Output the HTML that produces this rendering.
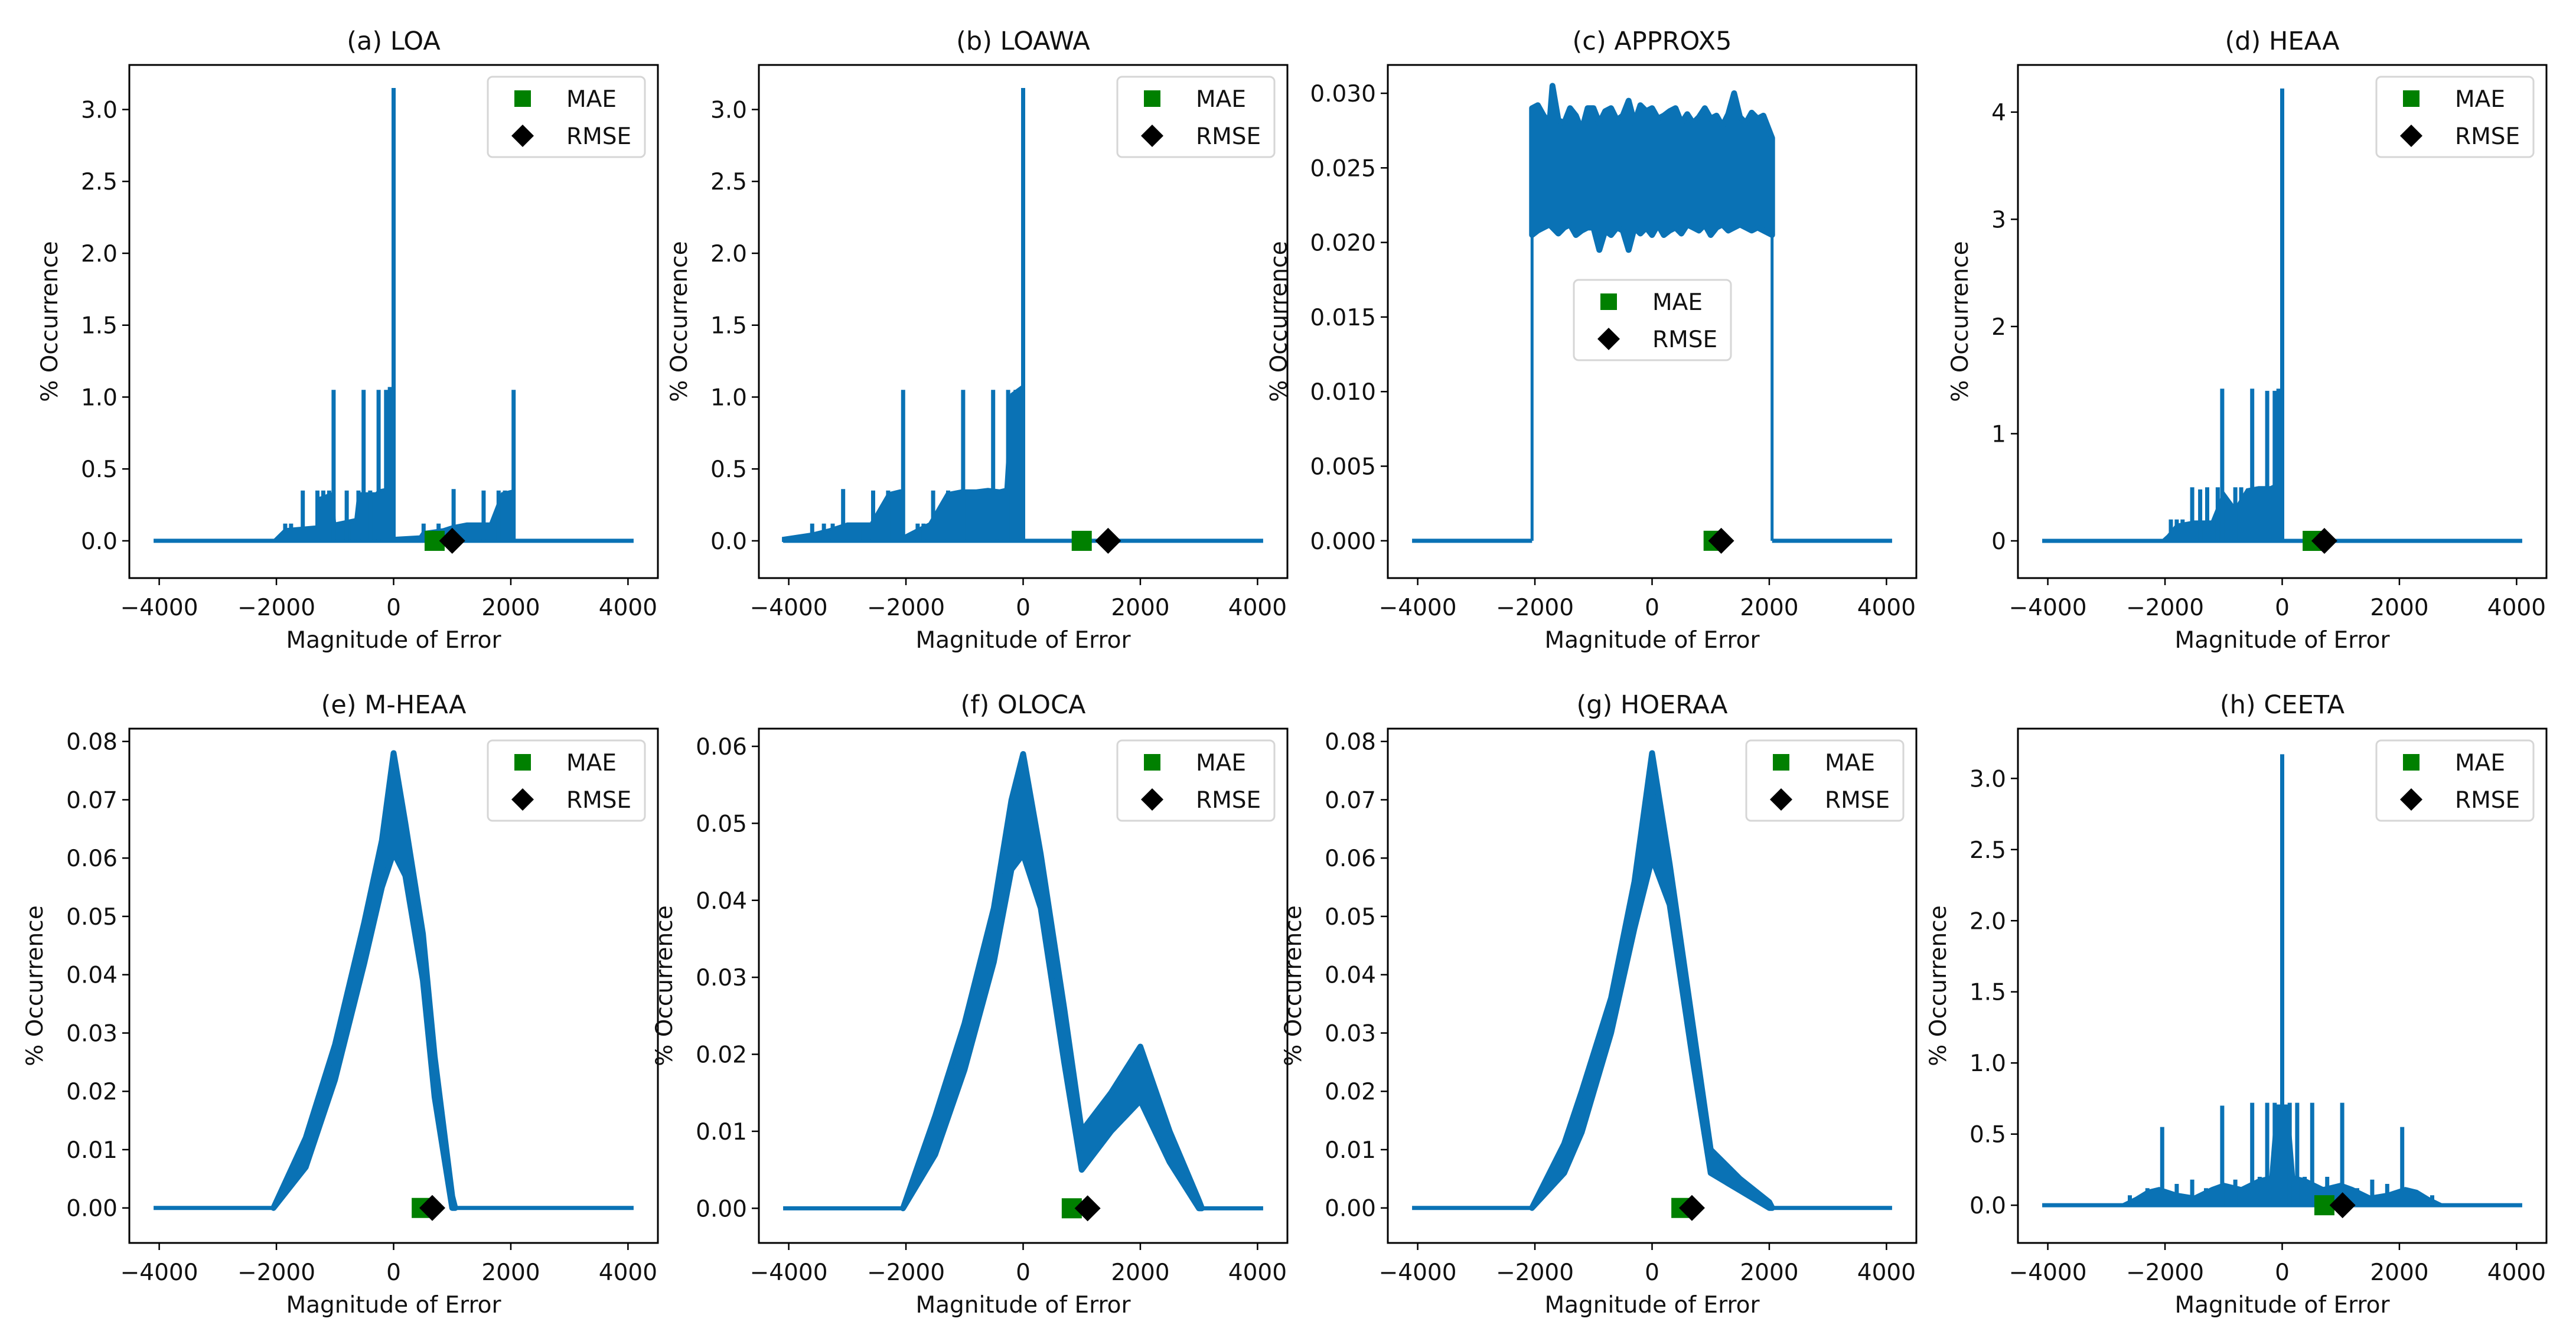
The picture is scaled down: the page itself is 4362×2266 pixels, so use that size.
<!DOCTYPE html>
<html><head><meta charset="utf-8"><style>
html,body{margin:0;padding:0;background:#fff}
svg{display:block}
text{font-family:"DejaVu Sans","Liberation Sans",sans-serif;fill:#111}
</style></head><body>
<svg id="fig" width="4362" height="2266" viewBox="0 0 4362 2266" xmlns="http://www.w3.org/2000/svg"></svg>
<script>
const xTicks=[-4000,-2000,0,2000,4000];
// (a) LOA
const aFillX=[-2050,-1950,-1850,-1300,-1250,-1050,-1000,-650,-600,-300,-250,-130,-120,0,10,450,500,850,1000,1250,1500,1650,1850,2048,2060];
const aFillY=[0,0.04,0.08,0.1,0.3,0.33,0.12,0.15,0.33,0.33,0.35,0.36,1.0,1.0,0.02,0.03,0.06,0.08,0.1,0.12,0.12,0.12,0.33,0.35,0];
const aSpikeX=[-1850,-1750,-1550,-1300,-1200,-1100,-1024,-800,-700,-600,-512,-400,-256,-160,-128,-64,0,512,768,1024,1280,1536,1792,1900,2048];
const aSpikeY=[0.12,0.12,0.35,0.35,0.35,0.35,1.05,0.35,0.12,0.35,1.05,0.35,1.05,0.35,1.05,1.07,3.15,0.12,0.12,0.36,0.12,0.35,0.35,0.35,1.05];
const aYTicks=[0,0.5,1.0,1.5,2.0,2.5,3.0];
const aMarkers=[700,1000];
// (b) LOAWA
const bFillX=[-4096,-3600,-3300,-3000,-2600,-2300,-2100,-2048,-2040,-1800,-1600,-1300,-1050,-800,-600,-400,-300,-200,-100,0,5];
const bFillY=[0.02,0.05,0.08,0.12,0.12,0.33,0.35,0.35,0.03,0.08,0.12,0.33,0.35,0.35,0.36,0.35,0.36,1.02,1.05,1.08,0];
const bSpikeX=[-3600,-3400,-3250,-3072,-2800,-2560,-2304,-2048,-1800,-1700,-1536,-1280,-1024,-768,-700,-512,-384,-256,-192,-128,0];
const bSpikeY=[0.12,0.12,0.12,0.36,0.12,0.35,0.35,1.05,0.12,0.12,0.35,0.35,1.05,0.35,0.35,1.05,0.35,1.05,0.36,1.05,3.15];
const bYTicks=[0,0.5,1.0,1.5,2.0,2.5,3.0];
const bMarkers=[1000,1450];
// (c) APPROX5
const cX=[-2048,-1950,-1850,-1750,-1700,-1600,-1500,-1400,-1300,-1200,-1100,-1000,-900,-800,-700,-600,-500,-400,-300,-200,-100,0,100,200,300,400,500,600,700,800,900,1000,1100,1200,1300,1400,1500,1600,1700,1800,1900,2048];
const cHi=[0.029,0.0292,0.0285,0.028,0.0305,0.0282,0.028,0.029,0.0285,0.0275,0.029,0.029,0.028,0.0288,0.029,0.0282,0.0285,0.0295,0.028,0.0292,0.0288,0.029,0.0283,0.0285,0.0288,0.029,0.028,0.0286,0.028,0.0284,0.029,0.0283,0.0285,0.0278,0.0286,0.030,0.0284,0.028,0.0287,0.0283,0.0285,0.027];
const cLo=[0.0205,0.0208,0.021,0.0212,0.021,0.0206,0.021,0.0212,0.0205,0.0208,0.021,0.021,0.0195,0.0208,0.0205,0.021,0.0208,0.0195,0.021,0.0206,0.021,0.0205,0.0212,0.0205,0.0208,0.021,0.0206,0.0212,0.021,0.0208,0.0212,0.0205,0.021,0.0212,0.0208,0.021,0.0212,0.021,0.0208,0.021,0.0208,0.0205];
const cYTicks=[0,0.005,0.010,0.015,0.020,0.025,0.030];
const cMarkers=[1050,1180];
// (d) HEAA
const dFillX=[-2050,-1950,-1800,-1500,-1200,-1000,-800,-600,-400,-200,0,5];
const dFillY=[0,0.05,0.15,0.18,0.18,0.45,0.3,0.48,0.5,0.5,0.55,0];
const dSpikeX=[-1900,-1800,-1700,-1536,-1400,-1280,-1100,-1024,-800,-700,-512,-450,-256,-128,-64,0];
const dSpikeY=[0.2,0.2,0.2,0.5,0.48,0.5,0.5,1.42,0.5,0.5,1.42,0.5,1.4,1.4,1.42,4.22];
const dYTicks=[0,1,2,3,4];
const dMarkers=[520,720];
// (e) M-HEAA
const eX=[-2050,-1500,-1000,-500,-200,0,200,500,700,1000,1050];
const eHi=[0,0.012,0.028,0.049,0.063,0.078,0.066,0.047,0.026,0.002,0];
const eLo=[0,0.007,0.022,0.042,0.055,0.061,0.057,0.039,0.019,0,0];
const eYTicks=[0,0.01,0.02,0.03,0.04,0.05,0.06,0.07,0.08];
const eMarkers=[480,660];
// (f) OLOCA
const fX=[-2050,-1500,-1000,-500,-200,0,300,700,1000,1500,2000,2500,3000,3050];
const fHi=[0,0.012,0.024,0.039,0.053,0.059,0.046,0.026,0.010,0.015,0.021,0.010,0.001,0];
const fLo=[0,0.007,0.018,0.032,0.044,0.046,0.039,0.019,0.005,0.010,0.014,0.006,0,0];
const fYTicks=[0,0.01,0.02,0.03,0.04,0.05,0.06];
const fMarkers=[830,1100];
// (g) HOERAA
const gX=[-2050,-1500,-1200,-700,-300,0,300,700,1000,1500,2000,2050];
const gHi=[0,0.011,0.02,0.036,0.056,0.078,0.059,0.031,0.010,0.005,0.001,0];
const gLo=[0,0.006,0.013,0.030,0.048,0.060,0.052,0.025,0.006,0.003,0,0];
const gYTicks=[0,0.01,0.02,0.03,0.04,0.05,0.06,0.07,0.08];
const gMarkers=[500,680];
// (h) CEETA
const hFillX=[-2750,-2500,-2300,-2100,-1800,-1500,-1200,-1000,-700,-400,-200,-100,0,100,200,400,700,1000,1200,1500,1800,2100,2300,2500,2750];
const hFillY=[0,0.05,0.1,0.12,0.08,0.06,0.12,0.15,0.12,0.18,0.2,0.7,0.7,0.7,0.2,0.18,0.12,0.15,0.12,0.06,0.08,0.12,0.1,0.05,0];
const hSpikeX=[-2600,-2300,-2048,-1800,-1536,-1300,-1024,-800,-512,-384,-256,-128,0,128,256,384,512,768,1024,1280,1536,1792,2048,2300,2560];
const hSpikeY=[0.07,0.12,0.55,0.15,0.18,0.12,0.7,0.18,0.72,0.2,0.72,0.72,3.17,0.72,0.72,0.2,0.72,0.2,0.72,0.12,0.18,0.15,0.55,0.1,0.07];
const hYTicks=[0,0.5,1.0,1.5,2.0,2.5,3.0];
const hMarkers=[720,1030];

const NS='http://www.w3.org/2000/svg';
const svg=document.getElementById('fig');
const BLUE='#0a72b5';
const FS=39;
function el(tag,attrs,parent){const e=document.createElementNS(NS,tag);for(const k in attrs)e.setAttribute(k,attrs[k]);(parent||svg).appendChild(e);return e;}
function fmt(v,dec){return (v<0?'\u2212':'')+Math.abs(v).toFixed(dec);}

const panels=[
 {id:'a',title:'(a) LOA',L:219,T:110,B:979,ylim:[-0.259,3.31],yt:aYTicks,dec:1,kind:'spike',fx:aFillX,fy:aFillY,sx:aSpikeX,sy:aSpikeY,m:aMarkers,leg:'ur'},
 {id:'b',title:'(b) LOAWA',L:1285,T:110,B:979,ylim:[-0.259,3.31],yt:bYTicks,dec:1,kind:'spike',fx:bFillX,fy:bFillY,sx:bSpikeX,sy:bSpikeY,m:bMarkers,leg:'ur'},
 {id:'c',title:'(c) APPROX5',L:2350,T:110,B:979,ylim:[-0.0025,0.0319],yt:cYTicks,dec:3,kind:'box',bx:cX,hi:cHi,lo:cLo,m:cMarkers,leg:'c'},
 {id:'d',title:'(d) HEAA',L:3417,T:110,B:979,ylim:[-0.347,4.44],yt:dYTicks,dec:0,kind:'spike',fx:dFillX,fy:dFillY,sx:dSpikeX,sy:dSpikeY,m:dMarkers,leg:'ur'},
 {id:'e',title:'(e) M-HEAA',L:219,T:1234,B:2105,ylim:[-0.006,0.0822],yt:eYTicks,dec:2,kind:'band',bx:eX,hi:eHi,lo:eLo,m:eMarkers,leg:'ur'},
 {id:'f',title:'(f) OLOCA',L:1285,T:1234,B:2105,ylim:[-0.0045,0.0623],yt:fYTicks,dec:2,kind:'band',bx:fX,hi:fHi,lo:fLo,m:fMarkers,leg:'ur'},
 {id:'g',title:'(g) HOERAA',L:2350,T:1234,B:2105,ylim:[-0.006,0.0822],yt:gYTicks,dec:2,kind:'band',bx:gX,hi:gHi,lo:gLo,m:gMarkers,leg:'ur'},
 {id:'h',title:'(h) CEETA',L:3417,T:1234,B:2105,ylim:[-0.265,3.35],yt:hYTicks,dec:1,kind:'spike',fx:hFillX,fy:hFillY,sx:hSpikeX,sy:hSpikeY,m:hMarkers,leg:'ur'}
];
const W=895, XMIN=-4510, XMAX=4510;

panels.forEach(p=>{
 const g=el('g',{});
 
 
 const R=p.L+W;
 const X=v=>p.L+(v-XMIN)/(XMAX-XMIN)*W;
 const Y=v=>p.B-(v-p.ylim[0])/(p.ylim[1]-p.ylim[0])*(p.B-p.T);
 const clipId='clip'+p.id;
 const cp=el('clipPath',{id:clipId},g);
 el('rect',{x:p.L,y:p.T,width:W,height:p.B-p.T},cp);
 const plot=el('g',{'clip-path':'url(#'+clipId+')'},g);
 
 
 const sw=5;
 if(p.kind==='spike'){
  const bl=el('line',{x1:X(-4096),x2:X(4096),y1:Y(0),y2:Y(0),stroke:BLUE,'stroke-width':7},plot);
  
  
  let d='M'+X(p.fx[0])+' '+Y(0);
  p.fx.forEach((x,i)=>{d+=' L'+X(x)+' '+Y(p.fy[i]);});
  d+=' L'+X(p.fx[p.fx.length-1])+' '+Y(0)+' Z';
  const f=el('path',{d:d,fill:BLUE,stroke:BLUE,'stroke-width':4},plot);
  
  
  p.sx.forEach((x,i)=>{
   const s=el('line',{x1:X(x),x2:X(x),y1:Y(0),y2:Y(p.sy[i]),stroke:BLUE,'stroke-width':sw+2},plot);
   
   
  });
 } else {
  const n=p.bx.length;
  const x0=p.bx[0], x1=p.bx[n-1];
  const b1=el('line',{x1:X(-4096),x2:X(x0),y1:Y(0),y2:Y(0),stroke:BLUE,'stroke-width':7},plot);
  
  
  const b2=el('line',{x1:X(x1),x2:X(4096),y1:Y(0),y2:Y(0),stroke:BLUE,'stroke-width':7},plot);
  
  
  if(p.kind==='box'){
   const v1=el('line',{x1:X(x0),x2:X(x0),y1:Y(0),y2:Y(p.lo[0]),stroke:BLUE,'stroke-width':sw},plot);
   
   
   const v2=el('line',{x1:X(x1),x2:X(x1),y1:Y(0),y2:Y(p.lo[n-1]),stroke:BLUE,'stroke-width':sw},plot);
   
   
  }
  let d='M'+X(p.bx[0])+' '+Y(p.hi[0]);
  for(let i=1;i<n;i++)d+=' L'+X(p.bx[i])+' '+Y(p.hi[i]);
  for(let i=n-1;i>=0;i--)d+=' L'+X(p.bx[i])+' '+Y(p.lo[i]);
  d+=' Z';
  const band=el('path',{d:d,fill:BLUE,stroke:BLUE,'stroke-width':10,'stroke-linejoin':'round'},plot);
  
  
 }
 const mx=X(p.m[0]), rx=X(p.m[1]), my=Y(0);
 const sq=el('rect',{x:mx-17,y:my-17,width:34,height:34,fill:'#008000'},g);
 
 
 const dm=el('path',{d:`M${rx} ${my-22} L${rx+22} ${my} L${rx} ${my+22} L${rx-22} ${my} Z`,fill:'#000'},g);
 
 
 const fr=el('rect',{x:p.L,y:p.T,width:W,height:p.B-p.T,fill:'none',stroke:'#000','stroke-width':3},g);
 
 
 xTicks.forEach(v=>{
  el('line',{x1:X(v),x2:X(v),y1:p.B,y2:p.B+12,stroke:'#000','stroke-width':2.5},g);
  const t=el('text',{x:X(v),y:p.B+63,'font-size':FS,'text-anchor':'middle'},g);
  t.textContent=fmt(v,0);
  
  
 });
 let maxw=0;
 p.yt.forEach(v=>{
  el('line',{x1:p.L-12,x2:p.L,y1:Y(v),y2:Y(v),stroke:'#000','stroke-width':2.5},g);
  const t=el('text',{x:p.L-20,y:Y(v)+14,'font-size':FS,'text-anchor':'end'},g);
  t.textContent=fmt(v,p.dec);
  
  
  maxw=Math.max(maxw,t.getComputedTextLength());
 });
 const yl=el('text',{x:0,y:0,'font-size':FS,'text-anchor':'middle',transform:`translate(${p.L-maxw-60},${(p.T+p.B)/2}) rotate(-90)`},g);
 yl.textContent='% Occurrence';
 
 
 const xl=el('text',{x:p.L+W/2,y:p.B+118,'font-size':FS,'text-anchor':'middle'},g);
 xl.textContent='Magnitude of Error';
 
 
 const ti=el('text',{x:p.L+W/2,y:p.T-26,'font-size':43,'text-anchor':'middle'},g);
 ti.textContent=p.title;
 
 
 const lw=266, lh=136;
 const lx = p.leg==='c' ? p.L+315 : R-22-lw;
 const ly = p.leg==='c' ? p.T+364 : p.T+20;
 const lg=el('g',{},g);
 
 
 el('rect',{x:lx,y:ly,width:lw,height:lh,rx:8,fill:'#fff','fill-opacity':0.9,stroke:'#d6d6d6','stroke-width':3},lg);
 el('rect',{x:lx+59-14,y:ly+37-14,width:28,height:28,fill:'#008000'},lg);
 const cx=lx+59, cy=ly+100;
 el('path',{d:`M${cx} ${cy-19} L${cx+19} ${cy} L${cx} ${cy+19} L${cx-19} ${cy} Z`,fill:'#000'},lg);
 const t1=el('text',{x:lx+133,y:ly+37+14,'font-size':FS},lg);
 t1.textContent='MAE';
 
 
 const t2=el('text',{x:lx+133,y:ly+100+14,'font-size':FS},lg);
 t2.textContent='RMSE';
 
 
});
</script>
</body></html>
